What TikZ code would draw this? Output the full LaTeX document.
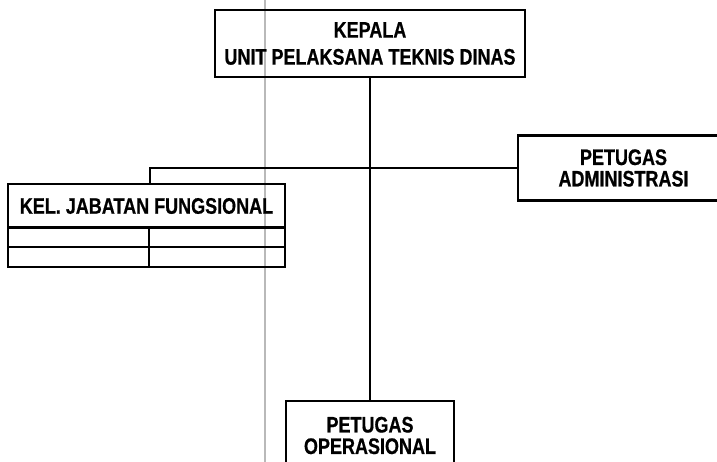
\documentclass[tikz,border=0pt]{standalone}
\usepackage{fontspec}
\setmainfont{Liberation Sans}[FakeStretch=0.8,BoldFeatures={FakeBold=0.6}]
\begin{document}
\begin{tikzpicture}[x=1pt,y=-1pt,
  box/.style={draw, line width=2.3pt, inner sep=0pt, align=center,
    font=\fontsize{22.5}{21.5}\selectfont\bfseries},
  cell/.style={draw, line width=2.3pt, inner sep=0pt},
  conn/.style={line width=2.5pt},
  fold/.style={draw=gray!55, line width=1.2pt}]
\useasboundingbox (0,0) rectangle (717,462);
\clip (0,0) rectangle (717,462);
\coordinate (foldtop) at (265,0);
\coordinate (foldbot) at (265,462);
\draw[fold] (foldtop) -- (foldbot);
\node[box, minimum width=310pt, minimum height=67pt,
  font=\fontsize{22.5}{27}\selectfont\bfseries] (kepala) at (370,43.5)
  {KEPALA\\UNIT PELAKSANA TEKNIS DINAS};
\node[box, minimum width=211pt, minimum height=65pt] (adm) at (623.5,168)
  {PETUGAS\\ADMINISTRASI};
\node[box, minimum width=168pt, minimum height=69pt] (op) at (370,435.5)
  {PETUGAS\\OPERASIONAL};
\node[box, minimum width=277pt, minimum height=44pt] (jab) at (146.5,206)
  {KEL. JABATAN FUNGSIONAL};
\node[cell, minimum width=141pt, minimum height=20pt] (c11) at (78.5,237) {};
\node[cell, minimum width=136pt, minimum height=20pt] (c12) at (217,237) {};
\node[cell, minimum width=141pt, minimum height=20pt] (c21) at (78.5,257) {};
\node[cell, minimum width=136pt, minimum height=20pt] (c22) at (217,257) {};
\draw[conn] (kepala.south) -- (kepala.south |- op.north);
\coordinate (jtop) at (jab.north -| c11.east);
\draw[conn] (jtop) |- (adm.west);
\end{tikzpicture}
\end{document}
